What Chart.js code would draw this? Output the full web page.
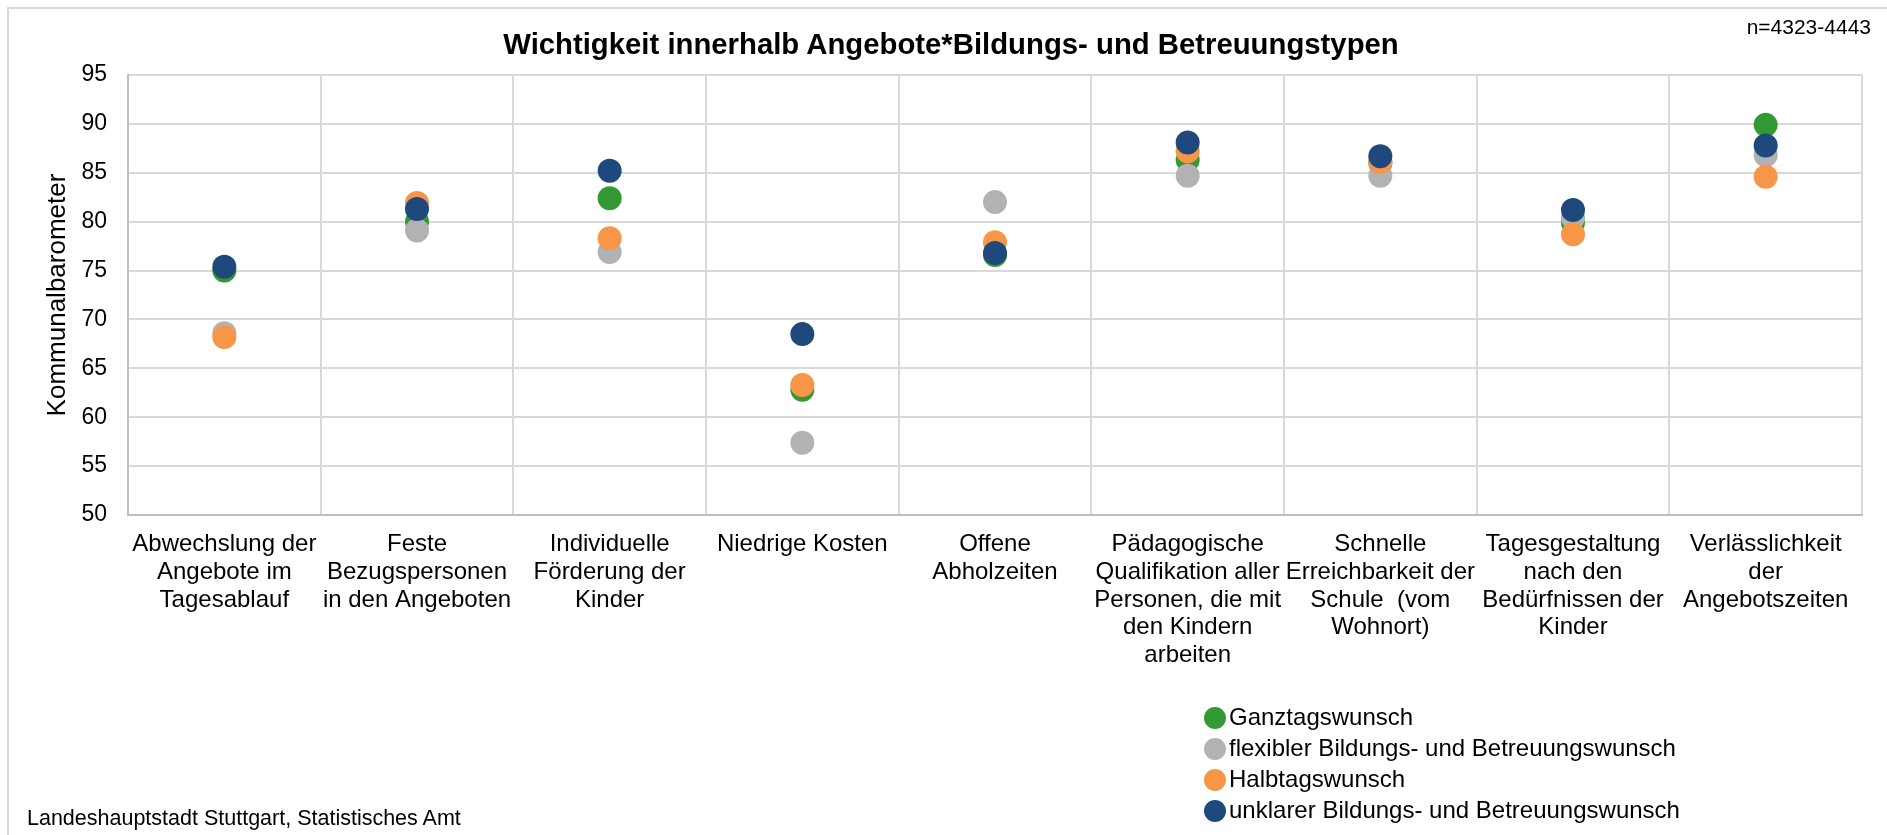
<!DOCTYPE html>
<html>
<head>
<meta charset="utf-8">
<script src="https://cdn.jsdelivr.net/npm/chart.js@4/dist/chart.umd.min.js"></script>
<style>
  html, body { margin: 0; padding: 0; background: #fff; }
  body { width: 1887px; height: 835px; position: relative; overflow: hidden; font-family: "Liberation Sans", Arial, sans-serif; }
  #frame { position: absolute; left: 7px; top: 7px; width: 1950px; height: 900px; border: 2px solid #d9d9d9; }
  #wrap { position: absolute; left: 0; top: 0; width: 1887px; height: 835px; }
  #title { position: absolute; left: 0; width: 1902px; top: 25.6px; text-align: center; font-size: 29.3px; line-height: 1.2; font-weight: bold; color: #000; white-space: nowrap; }
  #n { position: absolute; right: 16px; top: 15px; font-size: 21px; color: #000; }
  #source { position: absolute; left: 27px; top: 806px; font-size: 21.5px; color: #000; }
  #legend { position: absolute; left: 1204px; top: 701px; font-size: 24px; color: #000; }
  #legend div { height: 31px; line-height: 31px; white-space: nowrap; }
  #legend span { display: inline-block; width: 22px; height: 22px; border-radius: 50%; vertical-align: -4px; margin-right: 3px; }
</style>
</head>
<body>
<div id="frame"></div>
<div id="wrap"><canvas id="chart" width="1887" height="835"></canvas></div>
<div id="title">Wichtigkeit innerhalb Angebote*Bildungs- und Betreuungstypen</div>
<div id="n">n=4323-4443</div>
<div id="source">Landeshauptstadt Stuttgart, Statistisches Amt</div>
<div id="legend"></div>
<script>
// Kategorien (Angebote)
const categories = [
    ['Abwechslung der', 'Angebote im', 'Tagesablauf'],
    ['Feste', 'Bezugspersonen', 'in den Angeboten'],
    ['Individuelle', 'Förderung der', 'Kinder'],
    ['Niedrige Kosten'],
    ['Offene', 'Abholzeiten'],
    ['Pädagogische', 'Qualifikation aller', 'Personen, die mit', 'den Kindern', 'arbeiten'],
    ['Schnelle', 'Erreichbarkeit der', 'Schule  (vom', 'Wohnort)'],
    ['Tagesgestaltung', 'nach den', 'Bedürfnissen der', 'Kinder'],
    ['Verlässlichkeit', 'der', 'Angebotszeiten']
];

// Werte je Bildungs- und Betreuungstyp
const ganztags = [75.0, 80.0, 82.4, 62.8, 76.6, 86.3, 86.0, 79.9, 89.9];
const flexibel = [68.6, 79.1, 76.9, 57.4, 82.0, 84.7, 84.7, 80.4, 86.8];
const halbtags = [68.2, 81.9, 78.3, 63.3, 77.9, 87.2, 86.1, 78.7, 84.6];
const unklar = [75.4, 81.3, 85.2, 68.5, 76.8, 88.1, 86.7, 81.2, 87.8];

const seriesNames = [
    'Ganztagswunsch',
    'flexibler Bildungs- und Betreuungswunsch',
    'Halbtagswunsch',
    'unklarer Bildungs- und Betreuungswunsch'
];
const seriesColors = ['#339933', '#b2b2b2', '#f79646', '#1f497d'];
const seriesValues = [ganztags, flexibel, halbtags, unklar];

const yTicks = { min: 50, max: 95, step: 5 };

const FONT = '"Liberation Sans", Arial, sans-serif';
Chart.defaults.font.family = FONT;
Chart.defaults.color = '#000';

function createChart() {
    const ctx = document.getElementById('chart').getContext('2d');
    new Chart(ctx, {
        type: 'line',
        data: {
            labels: categories,
            datasets: seriesValues.map((vals, i) => ({
                label: seriesNames[i],
                data: vals,
                showLine: false,
                backgroundColor: seriesColors[i],
                borderColor: seriesColors[i],
                pointRadius: 12,
                pointHoverRadius: 12,
                pointBorderWidth: 0,
                order: seriesValues.length - 1 - i // letzte Reihe oben
            }))
        },
        options: {
            responsive: false,
            animation: false,
            events: [],
            layout: { padding: { left: 0, right: 25, top: 75, bottom: 0 } },
            plugins: {
                legend: { display: false },
                tooltip: { enabled: false },
                title: { display: false }
            },
            scales: {
                x: {
                    type: 'category',
                    offset: true,
                    grid: { offset: true, color: '#d9d9d9', lineWidth: 2, drawTicks: false },
                    border: { color: '#bfbfbf', width: 2 },
                    ticks: {
                        autoSkip: false,
                        maxRotation: 0,
                        minRotation: 0,
                        padding: 16,
                        font: { size: 24, lineHeight: 1.15 }
                    },
                    afterFit: s => { s.height = 320; }
                },
                y: {
                    min: yTicks.min,
                    max: yTicks.max,
                    grid: { color: '#d9d9d9', lineWidth: 2, drawTicks: false },
                    border: { color: '#bfbfbf', width: 2 },
                    ticks: { stepSize: yTicks.step, padding: 21, font: { size: 23 } },
                    title: {
                        display: true,
                        text: 'Kommunalbarometer',
                        font: { size: 26, lineHeight: 1.2 },
                        padding: { top: 42, bottom: 0 }
                    },
                    afterFit: s => { s.width = 128; }
                }
            }
        }
    });
}

function buildLegend() {
    const el = document.getElementById('legend');
    seriesNames.forEach((name, i) => {
        const row = document.createElement('div');
        const dot = document.createElement('span');
        dot.style.background = seriesColors[i];
        row.appendChild(dot);
        row.appendChild(document.createTextNode(name));
        el.appendChild(row);
    });
}

createChart();
buildLegend();
</script>
</body>
</html>
